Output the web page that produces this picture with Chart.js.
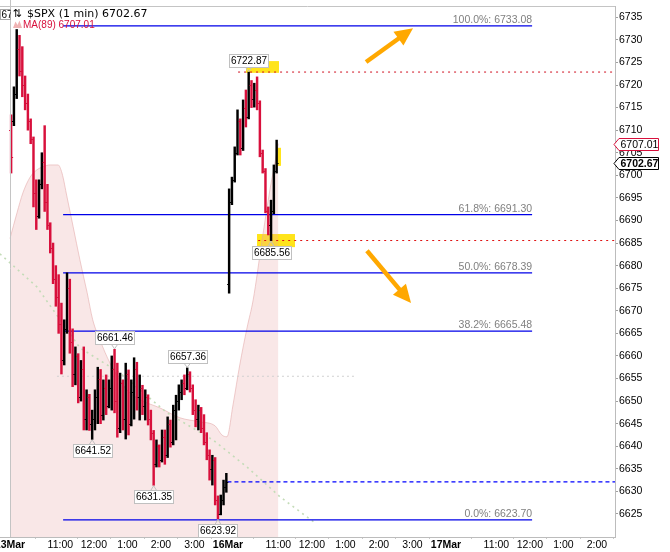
<!DOCTYPE html>
<html><head><meta charset="utf-8">
<script src="https://cdn.jsdelivr.net/npm/chart.js@4.4.1/dist/chart.umd.min.js"></script>
<style>html,body{margin:0;padding:0;background:#fff;}#wrap{width:670px;height:552px;position:relative;}</style>
</head><body><div id="wrap"><canvas id="c"></canvas></div>
<script>
// ---------- data (minutes from 13Mar 9:30 session open) ----------
const xTickMinutes = [0,90,150,210,270,330,390,480,540,600,660,720,780,870,930,990,1050];
const xTickLabels = ['13Mar','11:00','12:00','1:00','2:00','3:00','16Mar','11:00','12:00','1:00','2:00','3:00','17Mar','11:00','12:00','1:00','2:00'];
const dayTickLabels = ['13Mar','16Mar','17Mar'];
const yTickValues = [6625,6630,6635,6640,6645,6650,6655,6660,6665,6670,6675,6680,6685,6690,6695,6700,6705,6710,6715,6720,6725,6730,6735];

const barMinutes = [0,5,10,15,20,25,30,35,40,45,50,55,60,65,70,75,80,85,90,95,100,105,110,115,120,125,130,135,140,145,150,155,160,165,170,175,180,185,190,195,200,205,210,215,220,225,230,235,240,245,250,255,260,265,270,275,280,285,290,295,300,305,310,315,320,325,330,335,340,345,350,355,360,365,370,375,380,385,
  390,395,400,405,410,415,420,425,430,435,440,445,450,455,460,465,470,475];
const barOpen = [6710,6712,6718,6728,6723,6720,6716,6712,6708,6696,6691,6698,6703,6694,6689,6684,6677,6673,6667,6659,6666,6675,6663,6656,6660,6651,6657,6646,6651,6645,6646,6651,6655,6647,6653,6649,6653,6657,6650,6644,6654,6646,6656,6645,6652,6657,6651,6653,6649,6651,6646,6643,6636,6640,6637,6642,6638,6645,6641,6648,6650,6652,6654,6653,6656,6653,6648,6646,6648,6644,6641,6638,6635,6637,6628,6625,6628,6631,
  6676,6694,6699,6705,6712,6706,6715,6713,6720,6717,6719,6716,6705,6701,6692,6689,6692,6701];
const barHigh = [6713.4,6719.6,6732.3,6731,6728.5,6722,6718,6712.5,6708.5,6699,6699,6705,6711,6698,6689.5,6685,6680,6678,6671.7,6668,6678.4,6677,6666,6662,6660.5,6659,6662,6652.5,6651.5,6648,6652.5,6657.5,6657,6654.7,6655.8,6654.7,6660,6661.46,6658.4,6656.2,6654.7,6658.4,6656.9,6654.7,6659.6,6658.6,6655.8,6653.5,6652.5,6651.4,6648,6643.5,6641.4,6640.3,6643.6,6643.6,6646.5,6645.8,6649.1,6651.3,6653.6,6654.7,6655.8,6657.36,6656.5,6653.6,6650.3,6649.1,6648.6,6647,6643,6639.2,6638,6637.5,6629,6629.2,6632.5,6634,
  6697,6699.6,6706.3,6714.5,6712.5,6716.7,6718.9,6722.87,6721,6720.4,6721.8,6716.5,6705.6,6701.5,6693,6694.5,6702.3,6707.8];
const barLow = [6700.5,6711,6717,6722,6717.4,6714.5,6710,6707,6693,6688,6690.5,6697,6692,6688,6682.8,6676,6671,6665,6656,6658,6665,6660.6,6653.2,6653.6,6649.6,6650,6643.6,6643.6,6643.5,6641.52,6643.6,6645,6645,6645.8,6647,6648.5,6648,6647.4,6642,6643,6643.6,6641.6,6642.5,6644.5,6646,6648,6645.8,6647,6645.8,6644.7,6641.4,6631.35,6635.4,6635.4,6636.5,6636,6637.5,6639.8,6640.3,6641.4,6648,6650.3,6651.4,6652.5,6652,6647,6644.3,6643.6,6643,6640.3,6637,6632.5,6631.4,6627,6623.92,6624.8,6627,6629.8,
  6673.9,6693.5,6698.5,6704.5,6704.5,6705.5,6710.7,6712.5,6715,6715.1,6714.5,6704.1,6700.5,6691.7,6686.8,6685.56,6691.5,6700.5];
const barClose = [6704,6718,6728,6723,6720,6716,6712,6708,6696,6691,6698,6703,6694,6689,6684,6677,6673,6667,6659,6666,6675,6663,6656,6660,6651,6657,6646,6651,6645,6646,6651,6655,6647,6653,6649,6653,6657,6650,6644,6654,6646,6656,6645,6652,6657,6651,6653,6649,6651,6646,6643,6636,6640,6637,6642,6638,6645,6641,6648,6650,6652,6654,6653,6656,6653,6648,6646,6648,6644,6641,6638,6635,6637,6628,6625,6628,6631,6632.1,
  6694,6699,6705,6712,6706,6715,6713,6720,6717,6719,6716,6705,6701,6692,6689,6692,6701,6702.67];

const maMinutes = [0,12.5,23,36,48,59,72,86,93,102,113,125,138,148,161,179,209,233,268,304,340,367,379,388,399,411,424,435,451,465,478,480];
const maValues = [6686.0,6691.7,6696.1,6699.6,6701.2,6701.9,6702.3,6702.3,6700.5,6695.2,6688.6,6681.3,6674.0,6668.0,6663.5,6658.4,6652.5,6650.3,6648.5,6646.3,6645.4,6644.5,6642.5,6642.1,6649.2,6658.0,6666.2,6672.4,6685.7,6696.8,6705.6,6707.01];

const fibLabels = ['100.0%','61.8%','50.0%','38.2%','0.0%'];
const fibValues = [6733.08,6691.30,6678.39,6665.48,6623.70];

const trendMinutes = [-18,48,125,197,281,363,424,483,546];
const trendValues = [6682.6,6675.3,6661.8,6656.2,6647.4,6641.4,6635.4,6628.8,6623.0];

const sessionHigh = 6722.87;
const sessionLow = 6685.56;
const prevClose = 6632.1;
const midLevel = 6655.5;
const lastClose = 6702.67;
const lastMA = 6707.01;
const calloutHighs = [6722.87,6661.46,6657.36];
const calloutLows = [6685.56,6641.52,6631.35,6623.92];

// ---------- annotation layout (not data) ----------
const X_MIN = -17.9, X_MAX = 1082.3, Y_MIN = 6619.9, Y_MAX = 6737.5;
const BAR_SHIFT = 2;
const fibSpan = [95, 934];
const yellowBoxes = [
  {m0:422.2, m1:481.2, p0:6722.7, p1:6725.3},
  {m0:441.9, m1:509.8, p0:6684.1, p1:6687.0},
  {m0:477.6, m1:484.8, p0:6702.1, p1:6706.1}
];
const arrows = [
  {m0:637, p0:6725.1, m1:721, p1:6732.6},
  {m0:638.6, p0:6683.3, m1:717.4, p1:6671.7}
];

const RED = '#d8103c';
const SANS = '"Liberation Sans", Arial, sans-serif';
const barColors = barClose.map((c,i)=> c >= barOpen[i] ? '#000000' : RED);

function hline(value, m0, m1, color, dash, width, order){
  return {type:'line', data:[{x:m0,y:value},{x:m1,y:value}], borderColor:color, borderWidth:width,
    borderDash:dash, pointRadius:0, fill:false, order:order};
}

const datasets = [];
datasets.push({type:'bar', label:'SPX', data: barMinutes.map((m,i)=>({x:m+BAR_SHIFT, y:[barLow[i], barHigh[i]]})),
  backgroundColor: barColors, borderWidth:0, barThickness:1.8, order:0});
datasets.push({type:'line', label:'MA', data: maMinutes.map((m,i)=>({x:m,y:maValues[i]})),
  borderColor:'rgba(225,165,165,0.55)', borderWidth:1, backgroundColor:'rgba(232,170,170,0.28)',
  fill:'start', pointRadius:0, cubicInterpolationMode:'monotone', order:30});
fibValues.forEach(v=> datasets.push(hline(v, fibSpan[0], fibSpan[1], '#0000e8', [], 1.2, 10)));
datasets.push(hline(sessionHigh, 408, X_MAX, '#d01020', [2,4], 1, 12));
datasets.push(hline(sessionLow, 444, X_MAX, '#e01010', [2,4], 1, 12));
datasets.push(hline(prevClose, 389, X_MAX, '#0000ff', [4,3], 1.2, 12));
datasets.push(hline(midLevel, 84, 617, '#d0d0d0', [2,3], 1, 14));
datasets.push({type:'line', data: trendMinutes.map((m,i)=>({x:m,y:trendValues[i]})), borderColor:'#c4dcb8',
  borderWidth:1.6, borderDash:[2,4], pointRadius:0, fill:false, order:14});

const overlay = {
  id:'overlay',
  beforeDraw(chart){ const c=chart.ctx; c.save(); c.fillStyle='#fff'; c.fillRect(0,0,chart.width,chart.height); c.restore(); },
  beforeDatasetsDraw(chart){
    const {ctx, scales:{x,y}} = chart;
    ctx.save(); ctx.fillStyle = '#ffe41a';
    yellowBoxes.forEach(b=>{
      const x0=x.getPixelForValue(b.m0), x1=x.getPixelForValue(b.m1);
      const y0=y.getPixelForValue(b.p1), y1=y.getPixelForValue(b.p0);
      ctx.fillRect(x0,y0,x1-x0,y1-y0);
    });
    ctx.restore();
  },
  afterDatasetsDraw(chart){
    const {ctx, scales:{y}, chartArea} = chart;
    const meta = chart.getDatasetMeta(0);
    ctx.save();
    ctx.beginPath(); ctx.rect(chartArea.left, chartArea.top, chartArea.right-chartArea.left, chartArea.bottom-chartArea.top); ctx.clip();
    ctx.lineWidth = 1;
    meta.data.forEach((el,i)=>{
      const yo = Math.round(y.getPixelForValue(barOpen[i]))+0.5, yc = Math.round(y.getPixelForValue(barClose[i]))+0.5;
      ctx.strokeStyle = barColors[i];
      ctx.beginPath(); ctx.moveTo(el.x-2, yo); ctx.lineTo(el.x, yo); ctx.moveTo(el.x, yc); ctx.lineTo(el.x+2, yc); ctx.stroke();
    });
    ctx.restore();
  },
  afterDraw(chart){
    const {ctx, scales:{x,y}, chartArea} = chart;
    ctx.save();
    // frame
    ctx.strokeStyle = '#c4c4c4'; ctx.lineWidth = 1;
    ctx.beginPath(); ctx.moveTo(0, chartArea.top+0.5); ctx.lineTo(chartArea.right, chartArea.top+0.5); ctx.stroke();
    const x0 = Math.round(x.getPixelForValue(0))+0.5;
    ctx.beginPath(); ctx.moveTo(x0, 0); ctx.lineTo(x0, chartArea.bottom); ctx.stroke();

    // fib labels
    ctx.font = '10.5px ' + SANS; ctx.fillStyle = '#808080'; ctx.textAlign='right'; ctx.textBaseline='alphabetic';
    const fx = x.getPixelForValue(fibSpan[1]);
    fibValues.forEach((v,i)=>{ ctx.fillText(fibLabels[i] + ': ' + v.toFixed(2), fx, y.getPixelForValue(v) - 3); });

    // callouts
    const meta = chart.getDatasetMeta(0);
    ctx.font = '10px ' + SANS;
    const drawCallout = (value, idx, above) => {
      const el = meta.data[idx]; const cx = el.x; const py = y.getPixelForValue(value);
      const t = value.toFixed(2); const w = Math.round(ctx.measureText(t).width + 3); const h = 13;
      const bx = Math.round(cx - w/2) + 0.5;
      const by = Math.round(above ? py - 5 - h : py + 5) + 0.5;
      ctx.fillStyle = '#fff'; ctx.fillRect(bx, by, w, h);
      ctx.strokeStyle = '#c0c0c0'; ctx.strokeRect(bx, by, w, h);
      ctx.beginPath();
      if (above) { ctx.moveTo(cx-3, by+h); ctx.lineTo(cx, py-0.5); ctx.lineTo(cx+3, by+h); }
      else { ctx.moveTo(cx-3, by); ctx.lineTo(cx, py+0.5); ctx.lineTo(cx+3, by); }
      ctx.stroke();
      ctx.fillStyle = '#000'; ctx.textAlign='center'; ctx.textBaseline='middle';
      ctx.fillText(t, bx + w/2, by + h/2 + 0.5);
    };
    calloutHighs.forEach(v => drawCallout(v, barHigh.indexOf(v), true));
    calloutLows.forEach(v => drawCallout(v, barLow.indexOf(v), false));

    // arrows
    arrows.forEach(a=>{
      const ax0=x.getPixelForValue(a.m0), ay0=y.getPixelForValue(a.p0), ax1=x.getPixelForValue(a.m1), ay1=y.getPixelForValue(a.p1);
      const ang = Math.atan2(ay1-ay0, ax1-ax0), hl=18, hw=8.5;
      const bx = ax1 - hl*Math.cos(ang), by = ay1 - hl*Math.sin(ang);
      ctx.strokeStyle = ctx.fillStyle = '#ffa800'; ctx.lineWidth = 4.5;
      ctx.beginPath(); ctx.moveTo(ax0, ay0); ctx.lineTo(bx+2*Math.cos(ang), by+2*Math.sin(ang)); ctx.stroke();
      ctx.beginPath(); ctx.moveTo(ax1, ay1);
      ctx.lineTo(bx + hw*Math.sin(ang), by - hw*Math.cos(ang));
      ctx.lineTo(bx - hw*Math.sin(ang), by + hw*Math.cos(ang)); ctx.closePath(); ctx.fill();
    });

    // right axis price tags
    ctx.lineWidth = 1;
    const tag = (value, border, bold) => {
      const yp = Math.round(y.getPixelForValue(value)) + 0.5;
      const tip = chartArea.right - 1, l = tip + 5, r = chartArea.right + 43.5, h2 = 6;
      ctx.beginPath(); ctx.moveTo(tip, yp); ctx.lineTo(l, yp-h2); ctx.lineTo(r, yp-h2); ctx.lineTo(r, yp+h2); ctx.lineTo(l, yp+h2); ctx.closePath();
      ctx.fillStyle='#fff'; ctx.fill(); ctx.strokeStyle = border; ctx.stroke();
      ctx.fillStyle='#000'; ctx.textAlign='left'; ctx.textBaseline='middle';
      ctx.font = (bold ? 'bold ' : '') + '10.5px ' + SANS;
      ctx.fillText(value.toFixed(2), l + 1.5, yp + 0.5);
    };
    tag(lastMA, RED, false);
    tag(lastClose, '#000', true);

    // legend
    ctx.strokeStyle = '#a8a8a8'; ctx.fillStyle='#fff';
    ctx.fillRect(0.5, 9.5, 10, 10); ctx.strokeRect(0.5, 9.5, 10, 10);
    ctx.save(); ctx.beginPath(); ctx.rect(0,9,10.5,11); ctx.clip();
    ctx.fillStyle='#000'; ctx.font='10px ' + SANS; ctx.textAlign='left'; ctx.textBaseline='middle';
    ctx.fillText('6707.01', 1.5, 15); ctx.restore();
    ctx.fillStyle = '#000'; ctx.textAlign='left'; ctx.textBaseline='middle';
    ctx.font = '11px "DejaVu Sans", sans-serif';
    ctx.fillText('⇅', 12.5, 14.5);
    ctx.fillText('$SPX (1 min) ' + lastClose.toFixed(2), 27, 14.5);
    ctx.fillStyle = '#f0b4b4';
    ctx.beginPath(); ctx.moveTo(13,28); ctx.lineTo(15.5,21.5); ctx.lineTo(17.5,25); ctx.lineTo(19.5,20.5); ctx.lineTo(22,28); ctx.closePath(); ctx.fill();
    ctx.fillStyle = RED; ctx.font = '10px ' + SANS;
    ctx.fillText('MA(89) ' + lastMA.toFixed(2), 23, 25.5);
    ctx.restore();
  }
};

new Chart(document.getElementById('c'), {
  type:'bar',
  data:{datasets},
  options:{
    responsive:true, maintainAspectRatio:false, animation:false,
    layout:{padding:{top:6,left:0,right:0,bottom:0}},
    plugins:{legend:{display:false}, tooltip:{enabled:false}},
    scales:{
      x:{type:'linear', min:X_MIN, max:X_MAX, offset:false, bounds:'data',
        afterBuildTicks: s => { s.ticks = xTickMinutes.map(v=>({value:v})); },
        afterFit: s => { s.height = 15; s.paddingLeft = 0; s.paddingRight = 0; },
        grid:{drawOnChartArea:false, drawTicks:true, tickLength:2, color:'#c8c8c8'},
        border:{color:'#bcbcbc'},
        ticks:{autoSkip:false, maxRotation:0, minRotation:0, padding:0, color:'#000',
          font: c => ({family:SANS, size:10.5, weight: dayTickLabels.includes(xTickLabels[c.index]) ? 'bold' : 'normal'}),
          callback:(v,i)=> xTickLabels[i]}
      },
      y:{type:'linear', position:'right', min:Y_MIN, max:Y_MAX, bounds:'data',
        afterBuildTicks: s => { s.ticks = yTickValues.map(v=>({value:v})); },
        afterFit: s => { s.width = 55; s.paddingTop = 0; s.paddingBottom = 0; },
        grid:{drawOnChartArea:false, drawTicks:true, tickLength:3, color:'#a0a0a0'},
        border:{color:'#bcbcbc'},
        ticks:{padding:1, color:'#000', font:{family:SANS, size:10.5}, callback: v => String(v)}
      }
    }
  },
  plugins:[overlay]
});
</script></body></html>
